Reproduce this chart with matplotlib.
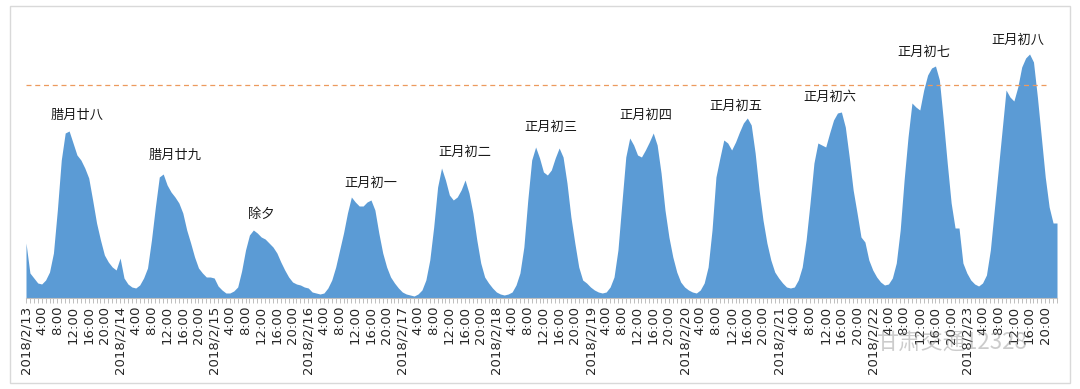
import matplotlib
matplotlib.use("Agg")
import matplotlib.pyplot as plt
from matplotlib.patches import Rectangle
import numpy as np

plt.rcParams['font.family'] = ['Noto Sans CJK SC', 'DejaVu Sans']

# Hourly values per day (arbitrary units), 0:00 .. 23:00
d13 = [55, 25, 20, 15, 14, 18, 26, 45, 88, 138, 165, 167, 155, 143, 138, 130, 120, 98, 75, 58, 43, 36, 31, 28]
d14 = [40, 20, 14, 11, 10, 13, 20, 30, 58, 91, 121, 124, 113, 106, 101, 95, 85, 68, 55, 41, 30, 25, 21, 21]
d15 = [20, 12, 8, 5, 5, 7, 11, 27, 48, 63, 68, 65, 61, 59, 55, 51, 45, 36, 28, 21, 16, 14, 13, 11]
d16 = [10, 6, 5, 4, 5, 10, 18, 31, 48, 65, 85, 101, 96, 92, 92, 96, 98, 88, 65, 45, 31, 21, 15, 10]
d17 = [6, 4, 3, 2, 4, 8, 18, 38, 71, 111, 130, 118, 103, 98, 101, 108, 118, 105, 85, 58, 35, 21, 15, 10]
d18 = [6, 4, 3, 4, 6, 13, 25, 51, 98, 138, 151, 140, 126, 123, 128, 140, 150, 141, 115, 81, 55, 31, 18, 15]
d19 = [11, 8, 6, 5, 6, 11, 21, 48, 95, 141, 160, 153, 143, 141, 148, 156, 165, 153, 125, 88, 61, 41, 26, 16]
d20 = [11, 8, 6, 5, 8, 15, 31, 68, 121, 140, 158, 155, 148, 156, 166, 175, 180, 173, 145, 108, 78, 55, 38, 26]
d21 = [20, 15, 11, 10, 11, 18, 31, 58, 95, 135, 155, 153, 151, 165, 178, 185, 186, 171, 141, 108, 85, 61, 56, 38]
d22 = [28, 21, 16, 13, 14, 20, 35, 68, 118, 161, 195, 191, 188, 208, 223, 230, 232, 218, 178, 135, 95, 70, 70, 35]
d23 = [25, 18, 14, 12, 15, 23, 48, 88, 128, 168, 208, 201, 197, 211, 231, 240, 244, 236, 201, 161, 121, 91, 75, 75]

days = ["2018/2/13", "2018/2/14", "2018/2/15", "2018/2/16", "2018/2/17", "2018/2/18",
        "2018/2/19", "2018/2/20", "2018/2/21", "2018/2/22", "2018/2/23"]
hour_labels = ["", "4:00", "8:00", "12:00", "16:00", "20:00"]

lunar_labels = ["腊月廿八", "腊月廿九", "除夕", "正月初一", "正月初二", "正月初三",
                "正月初四", "正月初五", "正月初六", "正月初七", "正月初八"]
lunar_label_hour = [13, 38, 60, 88, 112, 134, 158, 181, 205, 229, 253]
lunar_label_y = [183, 143, 84, 115, 146, 171, 183, 192, 201, 246, 258]

reference_level = 213

values = np.array(d13 + d14 + d15 + d16 + d17 + d18 + d19 + d20 + d21 + d22 + d23, dtype=float)
hours = np.arange(len(values))

fig = plt.figure(figsize=(10.8, 3.89), dpi=100)
fig.patches.append(Rectangle((10 / 1080, 6 / 389), 1060 / 1080, 377 / 389,
                             transform=fig.transFigure, fill=False,
                             edgecolor="#D9D9D9", linewidth=1.0))

ax = fig.add_axes([26 / 1080, 91 / 389, 1031 / 1080, 278 / 389])
ax.fill_between(hours, values, 0, color="#5B9BD5", linewidth=0)
ax.set_xlim(0, len(values) - 1)
ax.set_ylim(0, 278)

ax.hlines(reference_level, 0, 260.5, colors="#ED9A5E", linestyles=(0, (4, 3)), linewidth=0.9)

for lab, hx, hy in zip(lunar_labels, lunar_label_hour, lunar_label_y):
    ax.text(hx, hy, lab, ha="center", va="center", fontsize=9.5, color="#1a1a1a")

# ticks
ax.set_xticks(hours, minor=True)
major = hours[::4]
ax.set_xticks(major)
labels = []
for h in major:
    if h % 24 == 0:
        labels.append(days[h // 24])
    else:
        labels.append(hour_labels[(h % 24) // 4])
ax.set_xticklabels(labels, rotation=90, fontsize=9.5, color="#262626",
                   family=["DejaVu Sans"])
ax.tick_params(axis="x", which="both", direction="out", length=3.5, width=0.7,
               color="#BFBFBF", pad=2)
ax.set_yticks([])
for s in ["top", "right", "left"]:
    ax.spines[s].set_visible(False)
ax.spines["bottom"].set_color("#BFBFBF")
ax.spines["bottom"].set_linewidth(0.8)

# watermark (semi-transparent, as in the reference)
fig.text(952 / 1080, 1 - 343 / 389, "甘肃交通12328", ha="center", va="center", fontsize=16,
         color="#9a9a9a", alpha=0.5)

fig.savefig("out.png", dpi=100)
